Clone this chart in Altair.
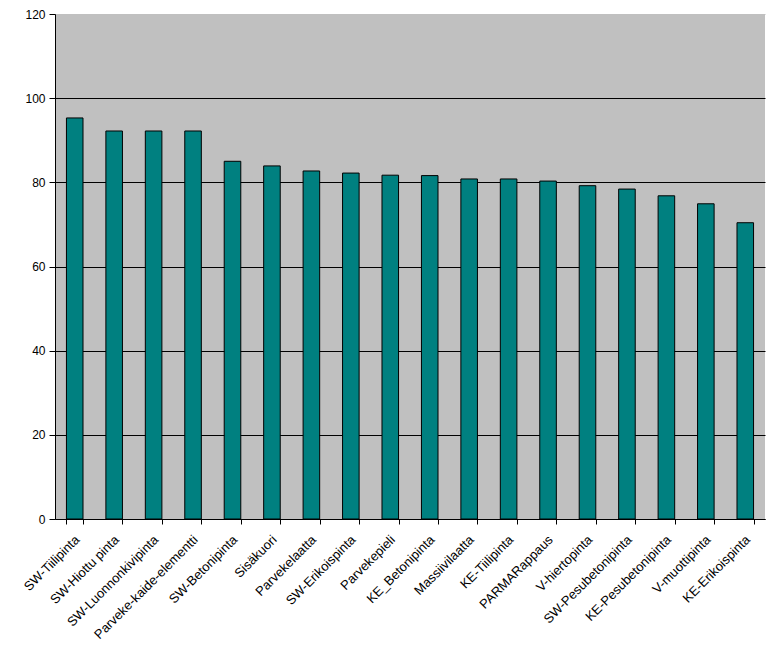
import altair as alt
import pandas as pd

categories = ["SW-Tiilipinta", "SW-Hiottu pinta", "SW-Luonnonkivipinta", "Parveke-kaide-elementti",
              "SW-Betonipinta", "Sisäkuori", "Parvekelaatta", "SW-Erikoispinta", "Parvekepieli",
              "KE_Betonipinta", "Massiivilaatta", "KE-Tiilipinta", "PARMARappaus", "V-hiertopinta",
              "SW-Pesubetonipinta", "KE-Pesubetonipinta", "V-muottipinta", "KE-Erikoispinta"]
values = [95.3, 92.2, 92.2, 92.2, 85.0, 83.9, 82.7, 82.2, 81.7,
          81.6, 80.8, 80.8, 80.3, 79.2, 78.4, 76.8, 74.9, 70.4]
y_ticks = [0, 20, 40, 60, 80, 100, 120]

df = pd.DataFrame({"cat": categories, "val": values})

FONT = "Liberation Sans"

chart = alt.Chart(df).mark_bar(color="#008080", stroke="black", strokeWidth=1).encode(
    x=alt.X("cat:N", sort=categories, title=None,
            scale=alt.Scale(paddingInner=0.58, paddingOuter=0.29),
            axis=alt.Axis(labelAngle=-45, labelAlign="right", labelBaseline="top",
                          labelFont=FONT, labelFontSize=13, labelColor="black",
                          labelPadding=9, labelOffset=-2,
                          domainColor="black", tickColor="black", tickBand="extent",
                          tickSize=5, labelOverlap=False, labelLimit=300)),
    y=alt.Y("val:Q", title=None,
            scale=alt.Scale(domain=[0, 120], nice=False),
            axis=alt.Axis(values=y_ticks, grid=True,
                          gridColor=alt.ExprRef("datum.value == 120 ? '#c0c0c0' : 'black'"),
                          gridWidth=1, gridOpacity=1,
                          labelFont=FONT, labelFontSize=12, labelColor="black",
                          domainColor="black", tickColor="black", tickSize=6, labelPadding=4)),
).properties(
    width=710, height=505,
    background="white",
    autosize=alt.AutoSizeParams(type="none"),
    padding={"left": 47, "top": 6, "right": 4, "bottom": 120},
).configure_view(fill="#c0c0c0", strokeWidth=0)

chart.save("out.html", embed_options={"renderer": "svg", "actions": False})
